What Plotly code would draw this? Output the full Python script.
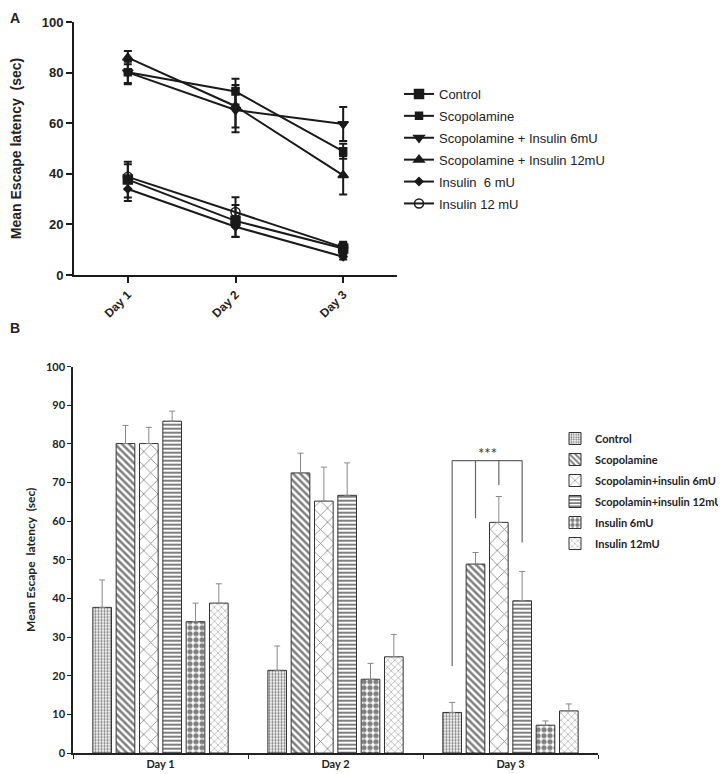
import plotly.graph_objects as go

days = ["Day 1", "Day 2", "Day 3"]

# Panel A series names
names_a = ["Control", "Scopolamine", "Scopolamine + Insulin 6mU",
           "Scopolamine + Insulin 12mU", "Insulin  6 mU", "Insulin 12 mU"]
# Panel B series names
names_b = ["Control", "Scopolamine", "Scopolamin+insulin 6mU",
           "Scopolamin+insulin 12mU", "Insulin 6mU", "Insulin 12mU"]

control = [37.7, 21.4, 10.5]
scopolamine = [80.1, 72.5, 48.9]
scop_ins6 = [80.1, 65.2, 59.7]
scop_ins12 = [85.9, 66.7, 39.4]
ins6 = [34.0, 19.1, 7.2]
ins12 = [38.8, 24.9, 10.9]

control_err = [7.1, 6.3, 2.6]
scopolamine_err = [4.7, 5.1, 3.0]
scop_ins6_err = [4.2, 8.8, 6.7]
scop_ins12_err = [2.6, 8.4, 7.6]
ins6_err = [4.8, 4.1, 1.1]
ins12_err = [5.0, 5.8, 1.8]

yticks_a = [0, 20, 40, 60, 80, 100]
yticks_b = [0, 10, 20, 30, 40, 50, 60, 70, 80, 90, 100]

values = [control, scopolamine, scop_ins6, scop_ins12, ins6, ins12]
errors = [control_err, scopolamine_err, scop_ins6_err, scop_ins12_err, ins6_err, ins12_err]

W, H = 726, 774
OFF = 8  # page body margin
def px(x): return (x - OFF) / W
def py(y): return 1 - (y - OFF) / H

fig = go.Figure()

# ---------- Panel A ----------
symbols = ["square", "square", "triangle-down", "triangle-up", "diamond", "circle-open"]
msizes = [9, 7, 9, 9, 6, 9]
for i in range(6):
    fig.add_trace(go.Scatter(
        x=days, y=values[i], name=names_a[i], mode="lines+markers",
        line=dict(color="#1a1a1a", width=2),
        marker=dict(symbol=symbols[i], size=msizes[i], color="#1a1a1a",
                    line=dict(color="#1a1a1a", width=1.5)),
        error_y=dict(type="data", array=errors[i], color="#1a1a1a",
                     thickness=2, width=4),
        xaxis="x", yaxis="y", legend="legend", legendgroup="a%d" % i,
    ))

# ---------- Panel B ----------
patterns = [
    dict(shape=".", size=3, solidity=0.45, fgcolor="#000", bgcolor="white"),
    dict(shape="\\", size=5, solidity=0.5, fgcolor="#000", bgcolor="white"),
    dict(shape="x", size=10, solidity=0.15, fgcolor="#000", bgcolor="white"),
    dict(shape="-", size=4, solidity=0.5, fgcolor="#000", bgcolor="white"),
    dict(shape=".", size=6, solidity=0.6, fgcolor="#000", bgcolor="white"),
    dict(shape="x", size=5, solidity=0.25, fgcolor="#555", bgcolor="white"),
]
zeros = [0, 0, 0]
for i in range(6):
    fig.add_trace(go.Bar(
        x=days, y=values[i], name=names_b[i],
        marker=dict(color="white", pattern=patterns[i],
                    line=dict(color="#333", width=1)),
        error_y=dict(type="data", symmetric=False, array=errors[i],
                     arrayminus=zeros, color="#888", thickness=1, width=3),
        xaxis="x2", yaxis="y2", legend="legend2", legendgroup="b%d" % i,
    ))

bargap = 0.2
bargroupgap = 0.2
slot = (1 - bargap) / 6
def center(day_idx, i):
    return day_idx - (1 - bargap) / 2 + slot * (i + 0.5)

# significance bracket on Day 3
brk_y = 75.7
drops = [(0, 22.5), (1, 60.8), (2, 69.4), (3, 54.5)]
xs = [center(2, i) for i, _ in drops]
shapes = [dict(type="line", xref="x2", yref="y2", x0=xs[0], x1=xs[-1],
               y0=brk_y, y1=brk_y, line=dict(color="#666", width=1.2))]
for (i, ybot), xx in zip(drops, xs):
    shapes.append(dict(type="line", xref="x2", yref="y2", x0=xx, x1=xx,
                       y0=ybot, y1=brk_y, line=dict(color="#666", width=1.2)))

annotations = [
    dict(text="<b>A</b>", x=0, y=1, xref="paper", yref="paper",
         xanchor="left", yanchor="top", showarrow=False,
         font=dict(family="Liberation Sans", size=14, color="#222")),
    dict(text="<b>B</b>", x=0, y=py(328), xref="paper", yref="paper",
         xanchor="left", yanchor="middle", showarrow=False,
         font=dict(family="Liberation Sans", size=14, color="#222")),
    dict(text="***", x=(xs[1] + xs[2]) / 2, y=brk_y, xref="x2", yref="y2",
         yanchor="bottom", showarrow=False, yshift=-3,
         font=dict(family="Lato", size=15, color="#333")),
]

fig.update_layout(
    width=W, height=H,
    margin=dict(l=0, r=0, t=0, b=0, autoexpand=False),
    paper_bgcolor="white", plot_bgcolor="white",
    barmode="group", bargap=bargap, bargroupgap=bargroupgap,
    shapes=shapes, annotations=annotations,
    xaxis=dict(domain=[px(74), px(397)], type="category", range=[-0.5, 2.5],
               showline=True, linecolor="#1a1a1a", linewidth=2,
               ticks="outside", ticklen=6, tickwidth=2, tickcolor="#1a1a1a",
               tickangle=-45, showgrid=False, zeroline=False,
               tickfont=dict(family="Liberation Sans", size=12, color="#222", weight="bold"),
               anchor="y", automargin=False),
    yaxis=dict(domain=[py(275), py(22)], range=[0, 100], tickvals=yticks_a,
               showline=True, linecolor="#1a1a1a", linewidth=2,
               ticks="outside", ticklen=6, tickwidth=2, tickcolor="#1a1a1a",
               showgrid=False, zeroline=False,
               tickfont=dict(family="Liberation Sans", size=13, color="#222", weight="bold"),
               title=dict(text="Mean Escape latency  (sec)", standoff=24,
                          font=dict(family="Liberation Sans", size=14, color="#222", weight="bold")),
               anchor="x", automargin=False),
    xaxis2=dict(domain=[px(73), px(598)], type="category", range=[-0.5, 2.5],
                showline=True, linecolor="#222", linewidth=1.5,
                ticks="outside", tickson="boundaries", ticklen=4, tickwidth=1,
                tickcolor="#222", showgrid=False, zeroline=False,
                tickfont=dict(family="Lato", size=11, color="#222", weight="bold"),
                anchor="y2", automargin=False),
    yaxis2=dict(domain=[py(753), py(366.7)], range=[0, 100], tickvals=yticks_b,
                showline=True, linecolor="#222", linewidth=1.5,
                ticks="outside", ticklen=4, tickwidth=1, tickcolor="#222",
                showgrid=False, zeroline=False,
                tickfont=dict(family="Lato", size=11, color="#222", weight="bold"),
                title=dict(text="Mean Escape  latency  (sec)", standoff=8,
                           font=dict(family="Lato", size=12, color="#222", weight="bold")),
                anchor="x2", automargin=False),
    legend=dict(x=px(399), y=py(79), xanchor="left", yanchor="top",
                bgcolor="rgba(0,0,0,0)", tracegroupgap=2,
                font=dict(family="Liberation Sans", size=13, color="#222")),
    legend2=dict(x=px(555), y=py(424), xanchor="left", yanchor="top",
                 bgcolor="rgba(0,0,0,0)", tracegroupgap=2, itemwidth=30,
                 font=dict(family="Lato", size=11, color="#222", weight="bold")),
)

fig.write_html("out.html")
